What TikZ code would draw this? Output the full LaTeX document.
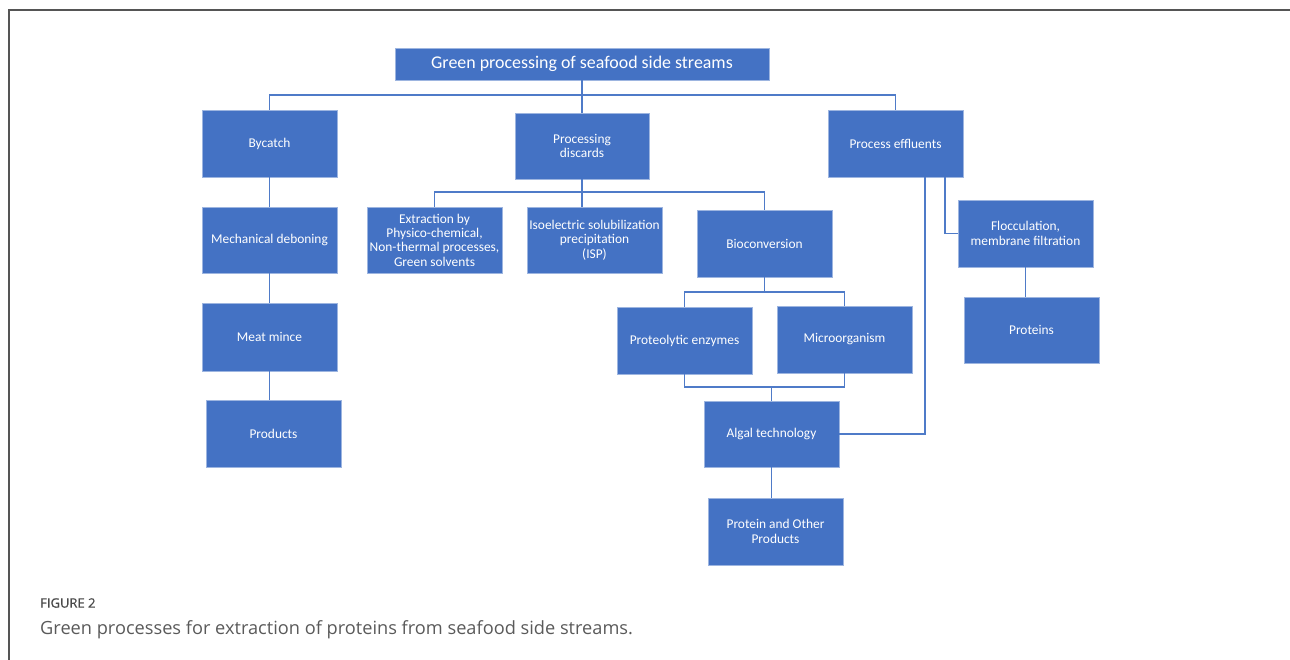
\documentclass[tikz,border=0pt]{standalone}
\usepackage{fontspec}
\setmainfont{Carlito}
\newfontfamily\capfont{Open Sans}
\newfontfamily\labfont[FakeBold=0.8]{Open Sans}
\definecolor{boxblue}{HTML}{4472C4}
\definecolor{boxedge}{HTML}{9DB5E0}
\definecolor{linkblue}{HTML}{4F7BC8}
\definecolor{framegray}{HTML}{555555}
\definecolor{capgray}{HTML}{5A5A5A}
\definecolor{labgray}{HTML}{4A4A4A}
\begin{document}
\begin{tikzpicture}[x=1pt,y=-1pt,
  box/.style={draw=boxedge,line width=0.8pt,fill=boxblue,text=white,align=center,
    minimum width=135pt,minimum height=67pt,inner sep=1pt,
    font=\fontsize{13.4}{14.4}\selectfont},
  link/.style={draw=linkblue,line width=1.15pt}]
\useasboundingbox (0,0) rectangle (1290,660);
% frame
\draw[framegray,line width=1.5pt] (9,660) -- (9,10) -- (1290,10);
% nodes
\node[box,minimum width=374pt,minimum height=32pt,font=\fontsize{17.9}{20}\selectfont] (title) at (582,64) {Green processing of seafood side streams};
\node[box] (bycatch) at (269.5,143.5) {Bycatch};
\node[box,minimum height=66pt] (mech) at (269.5,240) {Mechanical deboning};
\node[box,minimum height=68pt] (mince) at (269.5,337) {Meat mince};
\node[box] (products) at (273.5,433.5) {Products};
\node[box,minimum width=134pt,minimum height=66pt] (discards) at (582,146) {Processing\\discards};
\node[box,minimum height=66pt] (extr) at (434.5,240) {Extraction by\\Physico-chemical,\\Non-thermal processes,\\Green solvents};
\node[box,minimum height=66pt] (isp) at (594.5,240) {Isoelectric solubilization\\precipitation\\(ISP)};
\node[box] (bio) at (764.5,243.5) {Bioconversion};
\node[box] (prot) at (684.5,340.5) {Proteolytic enzymes};
\node[box] (micro) at (844.5,339.5) {Microorganism};
\node[box,minimum height=66pt] (algal) at (771.5,434) {Algal technology};
\node[box] (pop) at (775.5,531.5) {Protein and Other\\Products};
\node[box] (effl) at (895.5,143.5) {Process effluents};
\node[box] (floc) at (1025.5,233.5) {Flocculation,\\membrane filtration};
\node[box,minimum height=66pt] (proteins) at (1031.5,330) {Proteins};
% helper coordinates
\coordinate (ha) at (0,95);
\coordinate (hd) at (0,192);
\coordinate (hp) at (0,292);
\coordinate (hq) at (0,387);
\coordinate (ve) at (925,0);
\coordinate (vf) at (945,0);
% connectors
\draw[link] (title.south) -- (discards.north);
\draw[link] (bycatch.north) -- (bycatch.north |- ha) -- (effl.north |- ha) -- (effl.north);
\draw[link] (bycatch.south) -- (mech.north);
\draw[link] (mech.south) -- (mince.north);
\draw[link] (mince.south) -- (mince.south |- products.north);
\draw[link] (discards.south) -- (discards.south |- isp.north);
\draw[link] (extr.north) -- (extr.north |- hd) -- (bio.north |- hd) -- (bio.north);
\draw[link] (bio.south) -- (bio.south |- hp);
\draw[link] (prot.north) -- (prot.north |- hp) -- (micro.north |- hp) -- (micro.north);
\draw[link] (prot.south) -- (prot.south |- hq) -- (micro.south |- hq) -- (micro.south);
\draw[link] (algal.north) -- (algal.north |- hq);
\draw[link] (algal.south) -- (algal.south |- pop.north);
\draw[link] (algal.east) -| (effl.south -| ve);
\draw[link] (effl.south -| vf) |- (floc.west);
\draw[link] (floc.south) -- (floc.south |- proteins.north);
% caption
\node[anchor=west,inner sep=0pt,text=labgray,font=\labfont\fontsize{13}{15}\selectfont] (figlabel) at (40,603) {FIGURE 2};
\node[anchor=west,inner sep=0pt,text=capgray,font=\capfont\fontsize{18.2}{21}\selectfont] (caption) at (40,630) {Green processes for extraction of proteins from seafood side streams.};
\end{tikzpicture}
\end{document}
